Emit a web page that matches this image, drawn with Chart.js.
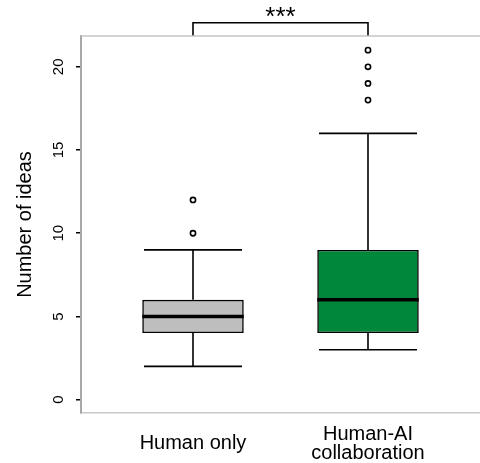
<!DOCTYPE html>
<html>
<head>
<meta charset="utf-8">
<script src="https://cdn.jsdelivr.net/npm/chart.js@4.4.1/dist/chart.umd.min.js"></script>
<style>
  html, body { margin: 0; padding: 0; background: #fff; }
  #wrap { width: 480px; height: 463px; position: relative; }
</style>
</head>
<body>
<div id="wrap"><canvas id="myChart"></canvas></div>
<script>
// data
const categories = ['Human only', ['Human-AI', 'collaboration']];
const whiskerLow = [2, 3];
const q1 = [4, 4];
const medians = [5, 6];
const q3 = [6, 9];
const whiskerHigh = [9, 16];
const outliers = [[10, 12], [18, 19, 20, 21]];
const yTicks = [0, 5, 10, 15, 20];
const sigLabel = '***';

// styles
const fillColors = ['#bebebe', '#00873b'];
const boxHalf = 0.29;
const capHalf = 0.28;
const fontFamily = "'Liberation Sans', Arial, Helvetica, sans-serif";
const yMin = -0.8;
const yMax = 21.85;

canvas = document.getElementById('myChart');
ctx = canvas.getContext('2d');

function boxData() {
    return categories.map((c, i) => ({ x: i + 1, y: [q1[i], q3[i]] }));
}

function whiskerData() {
    const pts = [];
    categories.forEach((c, i) => {
        const x = i + 1;
        pts.push({ x: x, y: q3[i] }, { x: x, y: whiskerHigh[i] }, { x: x, y: null });
        pts.push({ x: x, y: whiskerLow[i] }, { x: x, y: q1[i] }, { x: x, y: null });
    });
    return pts;
}

function capData() {
    const pts = [];
    categories.forEach((c, i) => {
        const x = i + 1;
        [whiskerHigh[i], whiskerLow[i]].forEach(v => {
            pts.push({ x: x - capHalf, y: v }, { x: x + capHalf, y: v }, { x: x, y: null });
        });
    });
    return pts;
}

function medianData() {
    const pts = [];
    categories.forEach((c, i) => {
        const x = i + 1;
        pts.push({ x: x - boxHalf, y: medians[i] }, { x: x + boxHalf, y: medians[i] }, { x: x, y: null });
    });
    return pts;
}

function outlierData() {
    const pts = [];
    outliers.forEach((list, i) => {
        list.forEach(v => pts.push({ x: i + 1, y: v }));
    });
    return pts;
}

// bracket sits just above the plot frame, between the two groups
function bracketData() {
    const low = yMax;
    const high = yMax + 0.8;
    return [{ x: 1, y: low }, { x: 1, y: high }, { x: categories.length, y: high }, { x: categories.length, y: low }];
}

const framePlugin = {
    id: 'frameAndStars',
    afterDraw(chart) {
        const c = chart.ctx;
        const area = chart.chartArea;
        const xs = chart.scales.x;
        const ys = chart.scales.y;
        c.save();
        c.strokeStyle = '#c4c4c4';
        c.lineWidth = 1.5;
        c.beginPath();
        c.moveTo(area.left, area.top);
        c.lineTo(area.right, area.top);
        c.stroke();

        c.fillStyle = '#000';
        c.font = '26px ' + fontFamily;
        c.textAlign = 'center';
        c.textBaseline = 'alphabetic';
        c.fillText(sigLabel, xs.getPixelForValue((1 + categories.length) / 2), ys.getPixelForValue(yMax + 0.8) + 2);
        c.restore();
    }
};

barChart = new Chart(ctx, {
    type: 'bar',
    data: {
        datasets: [
            {
                type: 'line',
                data: medianData(),
                borderColor: '#000',
                borderWidth: 3.5,
                pointRadius: 0,
                spanGaps: false,
                order: 0
            },
            {
                type: 'line',
                data: outlierData(),
                showLine: false,
                pointRadius: 2.6,
                pointBorderWidth: 1.6,
                pointBorderColor: '#000',
                pointBackgroundColor: '#fff',
                order: 0
            },
            {
                type: 'line',
                data: whiskerData(),
                borderColor: '#000',
                borderWidth: 1.6,
                pointRadius: 0,
                spanGaps: false,
                order: 1
            },
            {
                type: 'line',
                data: capData(),
                borderColor: '#000',
                borderWidth: 1.6,
                pointRadius: 0,
                spanGaps: false,
                order: 1
            },
            {
                type: 'line',
                data: bracketData(),
                borderColor: '#000',
                borderWidth: 1.6,
                pointRadius: 0,
                clip: false,
                order: 1
            },
            {
                type: 'bar',
                data: boxData(),
                backgroundColor: fillColors,
                borderColor: '#000',
                borderWidth: 1.6,
                borderSkipped: false,
                categoryPercentage: 1,
                barPercentage: boxHalf * 2,
                order: 2
            }
        ]
    },
    options: {
        responsive: true,
        maintainAspectRatio: false,
        animation: false,
        layout: { autoPadding: false, padding: { top: 36, right: 0, left: 0, bottom: 0 } },
        plugins: {
            legend: { display: false },
            tooltip: { enabled: false }
        },
        scales: {
            x: {
                type: 'linear',
                min: 0.36,
                max: 2.64,
                offset: false,
                grid: { display: false, drawTicks: false, offset: false },
                border: { display: true, color: '#c8c8c8', width: 1.5 },
                afterBuildTicks: function(scale) {
                    scale.ticks = categories.map((c, i) => ({ value: i + 1 }));
                },
                afterFit: function(scale) {
                    scale.height = 50;
                    scale.paddingLeft = 0;
                    scale.paddingRight = 0;
                },
                ticks: {
                    color: '#000',
                    padding: 21,
                    crossAlign: 'center',
                    maxRotation: 0,
                    autoSkip: false,
                    font: { family: fontFamily, size: 20, lineHeight: 0.95 },
                    callback: function(value) {
                        return categories[Math.round(value) - 1];
                    }
                }
            },
            y: {
                type: 'linear',
                min: yMin,
                max: yMax,
                grid: { drawOnChartArea: false, drawTicks: true, tickLength: 5, color: '#000', lineWidth: 1.5 },
                border: { display: true, color: '#a8a8a8', width: 2 },
                afterBuildTicks: function(scale) {
                    scale.ticks = yTicks.map(v => ({ value: v }));
                },
                afterFit: function(scale) {
                    scale.width = 81;
                    scale.paddingTop = 0;
                    scale.paddingBottom = 0;
                },
                title: {
                    display: true,
                    text: 'Number of ideas',
                    color: '#000',
                    padding: { top: 13, bottom: 0 },
                    font: { family: fontFamily, size: 20, lineHeight: 1.2 }
                },
                ticks: {
                    color: '#000',
                    padding: 9,
                    minRotation: 90,
                    maxRotation: 90,
                    crossAlign: 'center',
                    font: { family: fontFamily, size: 15 }
                }
            }
        }
    },
    plugins: [framePlugin]
});
</script>
</body>
</html>
